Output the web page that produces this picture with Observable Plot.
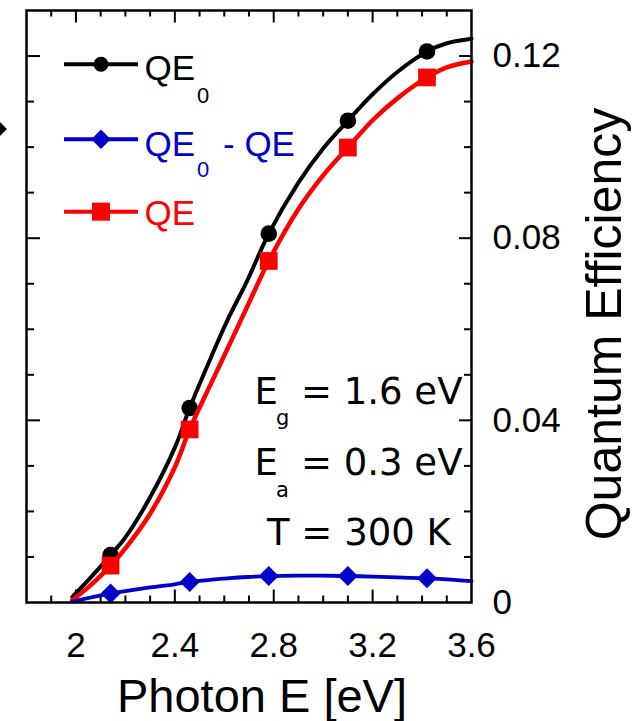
<!DOCTYPE html>
<html><head><meta charset="utf-8">
<script src="https://cdn.jsdelivr.net/npm/d3@7"></script>
<script src="https://cdn.jsdelivr.net/npm/@observablehq/plot@0.6"></script>
<style>
html,body{margin:0;padding:0;background:#fff;}
#chart{position:relative;width:632px;height:721px;overflow:hidden;}
svg{display:block}
</style></head><body><div id="chart"></div>
<script>
// ---- data ----
const markerEnergy = [2.14, 2.46, 2.78, 3.10, 3.42];
const qe0Markers   = [0.0104, 0.0427, 0.0810, 0.1058, 0.1210];
const qeMarkers    = [0.0081, 0.0380, 0.0750, 0.0999, 0.1153];
const diffMarkers  = [0.0020, 0.0045, 0.0058, 0.0058, 0.0053];

const curveEnergy = [1.985, 2.06, 2.14, 2.2, 2.3, 2.4, 2.46, 2.55, 2.612, 2.693, 2.78, 2.9, 3.0, 3.1, 3.2, 3.3, 3.42, 3.5, 3.6];
const qe0Curve  = [0.0012, 0.0055, 0.0104, 0.0143, 0.0231, 0.0340, 0.0427, 0.0543, 0.0619, 0.0707, 0.0810, 0.0922, 0.0997, 0.1058, 0.1116, 0.1165, 0.1210, 0.1228, 0.1238];
const qeCurve   = [0.0005, 0.0038, 0.0081, 0.0119, 0.0195, 0.0297, 0.0380, 0.0485, 0.0556, 0.0650, 0.0750, 0.0864, 0.0938, 0.0999, 0.1059, 0.1107, 0.1153, 0.1175, 0.1188];
const diffCurve = [0.0002, 0.0011, 0.0020, 0.0025, 0.0033, 0.0040, 0.0045, 0.0050, 0.0053, 0.0056, 0.0058, 0.0059, 0.0059, 0.0058, 0.0057, 0.0055, 0.0053, 0.0051, 0.0047];

const xTickLabels = [2, 2.4, 2.8, 3.2, 3.6];
const xMajorTicks = [2.0, 2.4, 2.8, 3.2];
const xMinorTicks = [1.9, 2.1, 2.2, 2.3, 2.5, 2.6, 2.7, 2.9, 3.0, 3.1, 3.3, 3.4, 3.5];
const yTickLabels = [0, 0.04, 0.08, 0.12];
const yMajorTicks = [0.04, 0.08, 0.12];
const yMinorTicks = [0.01, 0.02, 0.03, 0.05, 0.06, 0.07, 0.09, 0.10, 0.11];

const seriesNames = ["QE", "QE", "QE"];

// ---- tables ----
const markerRows = markerEnergy.map((E, i) => ({E, qe0: qe0Markers[i], qe: qeMarkers[i], diff: diffMarkers[i]}));
const curveRows = curveEnergy.map((E, i) => ({E, qe0: qe0Curve[i], qe: qeCurve[i], diff: diffCurve[i]}));

const BLACK = "#000000", RED = "#ff0000", BLUE = "#0000cc";
const W = 632, H = 721, mt = 10, mb = 119, ml = 26, mr = 161;
const fw = W - ml - mr, fh = H - mt - mb;
const tickStyle = {stroke: "#000", strokeWidth: 2};

const plot = Plot.plot({
  width: W, height: H,
  marginTop: mt, marginBottom: mb, marginLeft: ml, marginRight: mr,
  x: {domain: [1.8, 3.6]},
  y: {domain: [0, 0.13]},
  style: {fontFamily: "'Liberation Sans', Arial, sans-serif", fontSize: "35px", color: "#000", background: "#fff", overflow: "visible"},
  marks: [
    // inward ticks on all four sides
    Plot.ruleX(xMinorTicks, {insetTop: fh - 6.5, ...tickStyle}),
    Plot.ruleX(xMajorTicks, {insetTop: fh - 12.5, ...tickStyle}),
    Plot.ruleX(xMinorTicks, {insetBottom: fh - 6.5, ...tickStyle}),
    Plot.ruleX(xMajorTicks, {insetBottom: fh - 12.5, ...tickStyle}),
    Plot.ruleY(yMinorTicks, {insetRight: fw - 8, ...tickStyle}),
    Plot.ruleY(yMajorTicks, {insetRight: fw - 14, ...tickStyle}),
    Plot.ruleY(yMinorTicks, {insetLeft: fw - 7, ...tickStyle}),
    Plot.ruleY(yMajorTicks, {insetLeft: fw - 12, ...tickStyle}),
    // series
    Plot.line(curveRows, {x: "E", y: "qe0", stroke: BLACK, strokeWidth: 4, curve: "catmull-rom"}),
    Plot.dot(markerRows, {x: "E", y: "qe0", r: 8.3, fill: BLACK, symbol: "circle"}),
    Plot.line(curveRows, {x: "E", y: "qe", stroke: RED, strokeWidth: 4.5, curve: "catmull-rom"}),
    Plot.dot(markerRows, {x: "E", y: "qe", r: 10, fill: RED, symbol: "square"}),
    Plot.line(curveRows, {x: "E", y: "diff", stroke: BLUE, strokeWidth: 3.8, curve: "catmull-rom"}),
    Plot.dot(markerRows, {x: "E", y: "diff", r: 9, fill: BLUE, symbol: "diamond2"}),
    Plot.frame({stroke: "#000", strokeWidth: 2.5}),
    Plot.axisX({ticks: xTickLabels, tickSize: 0, tickPadding: 30, label: null, fontSize: 35, tickFormat: d => String(d)}),
    Plot.axisY({anchor: "right", ticks: yTickLabels, tickSize: 0, tickPadding: 21, label: null, fontSize: 35,
      tickFormat: d => d === 0 ? "0" : d.toFixed(2)})
  ]
});
document.getElementById("chart").appendChild(plot);

// ---- overlay: titles, legend, annotations ----
const svg = d3.select(plot);
const SANS = "'Liberation Sans', Arial, sans-serif";
const DJ = "'DejaVu Sans', sans-serif";
const g = svg.append("g").attr("text-anchor", "start");

function txt(x, y, s, family, size, color, anchor) {
  return g.append("text").attr("x", x).attr("y", y)
    .attr("text-anchor", anchor || "start")
    .style("font-family", family).style("font-size", size + "px")
    .attr("fill", color || "#000").text(s);
}

txt(262, 712, "Photon E [eV]", SANS, 47, "#000", "middle");
g.append("text").attr("transform", "translate(621,324) rotate(-90)").attr("text-anchor", "middle")
  .style("font-family", SANS).style("font-size", "50px").attr("fill", "#000").text("Quantum Efficiency");

// cropped marker at the far left edge
g.append("path").attr("d", d3.symbol(d3.symbolDiamond2, 160)()).attr("transform", "translate(-1,129)").attr("fill", "#000");

// legend
const legend = [
  {y: 64.3, color: BLACK, sym: d3.symbolCircle, size: Math.PI * 7.5 * 7.5, base: 80, sub: "0", subBase: 102.7, tail: null},
  {y: 139.3, color: BLUE, sym: d3.symbolDiamond2, size: 240, base: 156, sub: "0", subBase: 177, tail: "- QE"},
  {y: 211.7, color: RED, sym: d3.symbolSquare, size: 18 * 18, base: 225, sub: null, subBase: 0, tail: null}
];
legend.forEach((d, i) => {
  g.append("line").attr("x1", 64).attr("x2", 138).attr("y1", d.y).attr("y2", d.y)
    .attr("stroke", d.color).attr("stroke-width", 4);
  g.append("path").attr("d", d3.symbol(d.sym, d.size)()).attr("transform", `translate(101,${d.y})`).attr("fill", d.color);
  txt(144.5, d.base, seriesNames[i], SANS, 35, d.color);
  if (d.sub) txt(197, d.subBase, d.sub, SANS, 22, d.color);
  if (d.tail) txt(223, d.base, d.tail, SANS, 35, d.color);
});

// annotations
const ann = [
  {main: "E", sub: "g", rest: "= 1.6 eV", base: 404, subBase: 425},
  {main: "E", sub: "a", rest: "= 0.3 eV", base: 475, subBase: 496.5}
];
ann.forEach(a => {
  txt(254.5, a.base, a.main, DJ, 37);
  txt(276, a.subBase, a.sub, DJ, 21);
  txt(301, a.base, a.rest, DJ, 37);
});
txt(267, 545, "T = 300 K", DJ, 37);
</script>
</body></html>
